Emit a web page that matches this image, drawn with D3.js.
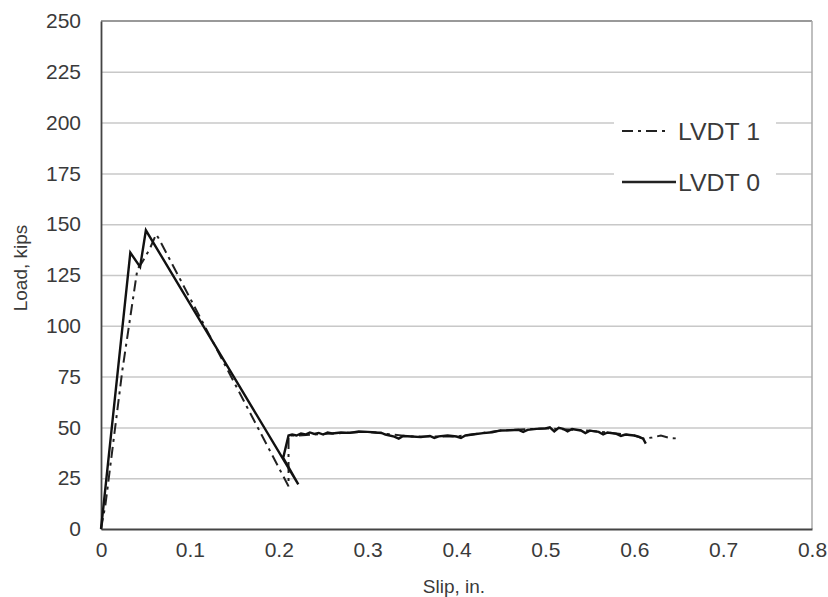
<!DOCTYPE html>
<html><head><meta charset="utf-8">
<script src="https://cdn.jsdelivr.net/npm/d3@7"></script>
<style>
html,body{margin:0;padding:0;background:#fff;}
svg{display:block;font-family:"Liberation Sans",Arial,sans-serif;}
</style></head>
<body>
<svg id="chart" width="828" height="597"></svg>
<script>
// ---- data ----
const xTicks = [0, 0.1, 0.2, 0.3, 0.4, 0.5, 0.6, 0.7, 0.8];
const xTickLabels = ["0", "0.1", "0.2", "0.3", "0.4", "0.5", "0.6", "0.7", "0.8"];
const yTicks = [0, 25, 50, 75, 100, 125, 150, 175, 200, 225, 250];
const yTickLabels = ["0", "25", "50", "75", "100", "125", "150", "175", "200", "225", "250"];
const seriesNames = ["LVDT 1", "LVDT 0"];

// LVDT 0 (solid) slip, load
const lvdt0Slip = [0, 0.002, 0.033, 0.044, 0.0505, 0.222, 0.205, 0.211, 0.215, 0.22, 0.225, 0.23, 0.235, 0.24, 0.245, 0.25, 0.255, 0.26, 0.27, 0.28, 0.29, 0.3, 0.31, 0.315, 0.32, 0.33, 0.335, 0.34, 0.35, 0.36, 0.37, 0.375, 0.38, 0.39, 0.4, 0.405, 0.41, 0.42, 0.43, 0.44, 0.45, 0.46, 0.47, 0.475, 0.48, 0.49, 0.5, 0.505, 0.51, 0.515, 0.52, 0.525, 0.53, 0.54, 0.545, 0.55, 0.56, 0.565, 0.57, 0.58, 0.585, 0.59, 0.6, 0.605, 0.61, 0.613];
const lvdt0Load = [0, 8, 136, 129, 147, 22, 35, 46, 46.5, 46, 47, 46.5, 47.5, 46.8, 47.3, 46.5, 47.5, 47, 47.5, 47.3, 48, 47.8, 47.5, 47.4, 46.5, 45.5, 44.5, 45.8, 45.5, 45.2, 45.8, 44.8, 45.6, 46, 45.5, 44.8, 46, 46.6, 47.2, 47.6, 48.5, 48.6, 48.8, 47.8, 48.8, 49.3, 49.5, 50, 48, 49.8, 49.3, 48, 49.2, 48.5, 47.2, 48.4, 47.8, 46.5, 47.5, 46.8, 45.8, 46.5, 46, 45.5, 44.5, 42];

// LVDT 1 (dash-dot) slip, load
const lvdt1Slip = [0, 0.005, 0.024, 0.041, 0.046, 0.055, 0.062, 0.065, 0.211, 0.211, 0.22, 0.26, 0.3, 0.35, 0.4, 0.45, 0.5, 0.55, 0.6, 0.61, 0.62, 0.63, 0.64, 0.65];
const lvdt1Load = [0, 12, 78, 128, 131, 138, 145, 143, 21, 46, 46, 47, 47.8, 45.5, 45.5, 48.5, 49.5, 48.4, 46, 44.5, 45, 46, 44.8, 44.5];

// ---- layout ----
const svg = d3.select("#chart");
const plotL = 101, plotR = 812, plotT = 21, plotB = 529;
const x = d3.scaleLinear().domain([0, 0.8]).range([plotL, plotR]);
const y = d3.scaleLinear().domain([0, 250]).range([plotB, plotT]);
const textColor = "#3a3a3a";

// gridlines
svg.append("g")
  .attr("transform", `translate(${plotL},0)`)
  .call(d3.axisLeft(y).tickValues(yTicks.filter(d => d > 0 && d < 250)).tickSize(-(plotR - plotL)).tickFormat(""))
  .call(g => g.select(".domain").remove())
  .call(g => g.selectAll("line").attr("stroke", "#c8c8c8").attr("stroke-width", 1.5));

// frame
svg.append("line").attr("x1", plotL).attr("x2", plotR).attr("y1", plotT).attr("y2", plotT).attr("stroke", "#777").attr("stroke-width", 1.5);
svg.append("line").attr("x1", plotR).attr("x2", plotR).attr("y1", plotT).attr("y2", plotB).attr("stroke", "#aaa").attr("stroke-width", 1.5);

// y axis
svg.append("g")
  .attr("transform", `translate(${plotL},0)`)
  .call(d3.axisLeft(y).tickValues(yTicks).tickSize(0).tickPadding(20).tickFormat((d, i) => yTickLabels[i]))
  .call(g => g.select(".domain").attr("stroke", "#444").attr("stroke-width", 1.8))
  .call(g => g.selectAll("text").attr("fill", textColor).attr("font-size", 21).attr("font-family", "Liberation Sans, Arial, sans-serif"));

// x axis
svg.append("g")
  .attr("transform", `translate(0,${plotB})`)
  .call(d3.axisBottom(x).tickValues(xTicks).tickSize(0).tickPadding(13).tickFormat((d, i) => xTickLabels[i]))
  .call(g => g.select(".domain").attr("stroke", "#444").attr("stroke-width", 1.8))
  .call(g => g.selectAll("text").attr("fill", textColor).attr("font-size", 21).attr("font-family", "Liberation Sans, Arial, sans-serif"));

// axis titles
svg.append("text").attr("x", 454).attr("y", 593).attr("text-anchor", "middle")
  .attr("fill", textColor).attr("font-size", 19).text("Slip, in.");
svg.append("text").attr("transform", "translate(27,268) rotate(-90)").attr("text-anchor", "middle")
  .attr("fill", textColor).attr("font-size", 19).text("Load, kips");

// series
const line = d3.line().x(d => x(d[0])).y(d => y(d[1]));
const d1 = lvdt1Slip.map((s, i) => [s, lvdt1Load[i]]);
const d0 = lvdt0Slip.map((s, i) => [s, lvdt0Load[i]]);
svg.append("path").datum(d1).attr("d", line).attr("fill", "none")
  .attr("stroke", "#222").attr("stroke-width", 2).attr("stroke-dasharray", "11,5,3,5");
svg.append("path").datum(d0).attr("d", line).attr("fill", "none")
  .attr("stroke", "#111").attr("stroke-width", 2.4).attr("stroke-linejoin", "miter");

// legend
svg.append("rect").attr("x", 614).attr("y", 108).attr("width", 162).attr("height", 94).attr("fill", "#fff");
const legendRows = [
  {name: seriesNames[0], y: 131, dash: "11,5,3,5", x1: 622, x2: 667, w: 2},
  {name: seriesNames[1], y: 182, dash: null, x1: 622, x2: 676, w: 2.4}
];
legendRows.forEach(r => {
  svg.append("line").attr("x1", r.x1).attr("x2", r.x2).attr("y1", r.y).attr("y2", r.y)
    .attr("stroke", "#222").attr("stroke-width", r.w).attr("stroke-dasharray", r.dash);
  svg.append("text").attr("x", 678).attr("y", r.y + 9).attr("fill", textColor)
    .attr("font-size", 24).attr("textLength", 82).attr("lengthAdjust", "spacingAndGlyphs").text(r.name);
});
</script>
</body></html>
